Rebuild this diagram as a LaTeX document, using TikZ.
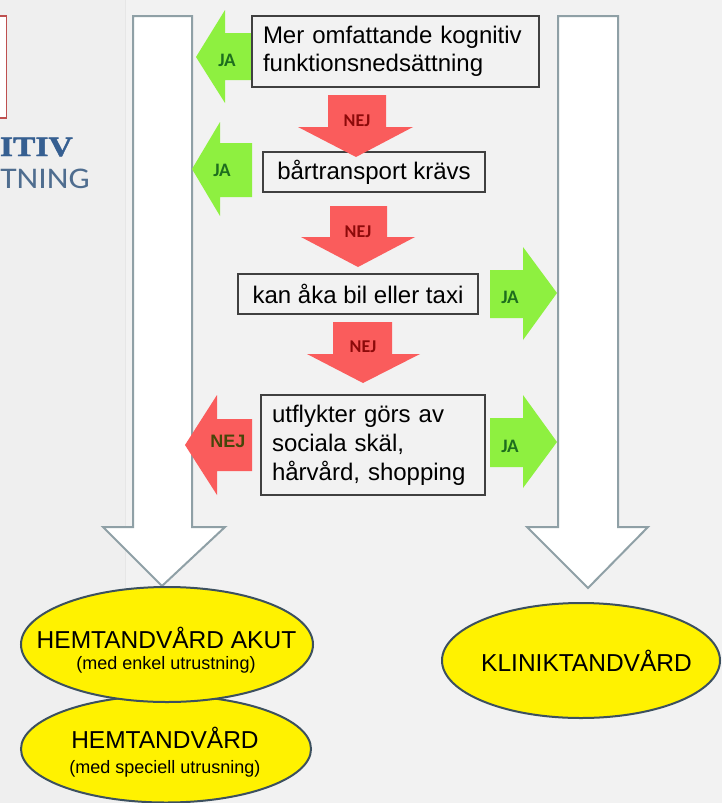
\documentclass[tikz,border=0pt]{standalone}
\usepackage{fontspec}
\setmainfont{Liberation Sans}
\newfontfamily\carl{Carlito}
\newfontfamily\carlwide[FakeStretch=1.12]{Carlito}
\newfontfamily\serifb[FakeStretch=1.2,FakeBold=1.5]{Liberation Serif}
\usetikzlibrary{shapes.geometric}
\definecolor{bg}{RGB}{242,242,242}
\definecolor{bgleft}{RGB}{239,239,239}
\definecolor{wstroke}{RGB}{143,160,166}
\definecolor{greenf}{RGB}{142,240,64}
\definecolor{redf}{RGB}{250,92,92}
\definecolor{jatext}{RGB}{30,110,30}
\definecolor{nejtext}{RGB}{140,10,10}
\definecolor{nejolive}{RGB}{70,70,10}
\definecolor{boxline}{RGB}{64,64,64}
\definecolor{ovalline}{RGB}{60,80,95}
\definecolor{titleblue}{RGB}{54,95,145}
\definecolor{titleblue2}{RGB}{79,109,143}
\definecolor{redbox}{RGB}{190,80,80}
\definecolor{faintline}{RGB}{230,230,230}
\tikzset{
  bigarrow/.style={fill=white, draw=wstroke, line width=2pt, line join=miter},
  yesarrow/.style={fill=greenf},
  noarrow/.style={fill=redf},
  qbox/.style={draw=boxline, fill=bg, line width=1.2pt, inner sep=0pt, font=\fontsize{24}{28}\selectfont},
  oval/.style={ellipse, draw=ovalline, fill=yellow, line width=2pt, inner sep=0pt},
  jalabel/.style={text=jatext, font=\carl\bfseries\fontsize{19}{19}\selectfont, inner sep=0pt},
  nejlabel/.style={text=nejtext, font=\carl\bfseries\fontsize{18}{18}\selectfont, inner sep=0pt},
  bigtext/.style={anchor=base, inner sep=0pt, font=\fontsize{24.5}{24.5}\selectfont},
  smalltext/.style={anchor=base, inner sep=0pt, font=\fontsize{18}{18}\selectfont}
}
\begin{document}
\begin{tikzpicture}[x=1pt,y=-1pt]
\useasboundingbox (0,0) rectangle (722,803);
\fill[bg] (0,0) rectangle (722,803);
\fill[bgleft] (0,0) rectangle (125,803);
\draw[draw=faintline, line width=0.8pt] (125,0) -- (125,803);
% cut-off title at the left
\draw[draw=redbox, fill=white, line width=1.5pt] (-10,16) rectangle (6.5,118);
\node[anchor=base east, inner sep=0pt, text=titleblue, font=\serifb\bfseries\fontsize{28}{28}\selectfont] (itiv) at (73,156) {ITIV};
\node[anchor=base east, inner sep=0pt, text=titleblue2, font=\carlwide\fontsize{30}{30}\selectfont] (tning) at (90,188) {TNING};
% big white arrows
\draw[bigarrow] (133,16) -- (192,16) -- (192,527) -- (225,527) -- (162,586) -- (103,527) -- (133,527) -- cycle;
\draw[bigarrow] (558,16) -- (618,16) -- (618,527) -- (648,527) -- (588,588) -- (527,527) -- (558,527) -- cycle;
% ellipses
\node[oval, minimum width=290pt, minimum height=107pt] (e2) at (166,749) {};
\node[oval, minimum width=292pt, minimum height=115pt] (e1) at (167,644.5) {};
\node[oval, minimum width=278pt, minimum height=115pt] (e3) at (581,660.5) {};
\node[bigtext] (e1a) at (166.5,648) {HEMTANDVÅRD AKUT};
\node[smalltext] (e1b) at (166,669.5) {(med enkel utrustning)};
\node[bigtext] (e2a) at (165,748) {HEMTANDVÅRD};
\node[smalltext] (e2b) at (165,773) {(med speciell utrusning)};
\node[bigtext] (e3a) at (586.5,671) {KLINIKTANDVÅRD};
% side arrows (behind boxes)
\fill[yesarrow] (252,33) -- (225,33) -- (225,10) -- (196,57) -- (225,103) -- (225,80) -- (252,80) -- cycle;
\fill[yesarrow] (252,143) -- (220,143) -- (220,122) -- (192,169) -- (220,216) -- (220,197) -- (252,197) -- cycle;
\fill[yesarrow] (490,270) -- (523,270) -- (523,247) -- (557,293) -- (523,340) -- (523,318) -- (490,318) -- cycle;
\fill[yesarrow] (490,418) -- (523,418) -- (523,395) -- (557,442) -- (523,488) -- (523,467) -- (490,467) -- cycle;
\fill[noarrow] (252,419) -- (217,419) -- (217,395) -- (185,445) -- (217,495) -- (217,471) -- (252,471) -- cycle;
\node[jalabel] (ja1) at (227,60) {JA};
\node[jalabel] (ja2) at (222,170) {JA};
\node[jalabel] (ja3) at (510,297) {JA};
\node[jalabel] (ja4) at (510,446) {JA};
\node[text=nejolive, font=\bfseries\fontsize{18}{18}\selectfont, inner sep=0pt] (nejl) at (228,441) {NEJ};
% question boxes
\node[qbox, minimum width=287pt, minimum height=71pt, text width=265pt, align=left] (q1) at (395.5,51.5) {Mer omfattande kognitiv\\funktionsnedsättning};
\node[qbox, minimum width=222pt, minimum height=40pt] (q2) at (374,172) {bårtransport krävs};
\node[qbox, minimum width=240pt, minimum height=40pt] (q3) at (358,294) {kan åka bil eller taxi};
\node[qbox, minimum width=224pt, minimum height=100pt, text width=202pt, align=left, font=\fontsize{24}{29}\selectfont] (q4) at (373,445) {utflykter görs av\\sociala skäl,\\hårvård, shopping};
% down NEJ arrows
\fill[noarrow] (328,95) -- (386,95) -- (386,127) -- (413,127) -- (356,157) -- (298,127) -- (328,127) -- cycle;
\fill[noarrow] (330,206) -- (387,206) -- (387,237) -- (415,237) -- (358,267) -- (301,237) -- (330,237) -- cycle;
\fill[noarrow] (333,322) -- (392,322) -- (392,354) -- (420,354) -- (363,383) -- (307,354) -- (333,354) -- cycle;
\node[nejlabel] (nej1) at (357,121) {NEJ};
\node[nejlabel] (nej2) at (358,232) {NEJ};
\node[nejlabel] (nej3) at (363,347) {NEJ};
\end{tikzpicture}
\end{document}
